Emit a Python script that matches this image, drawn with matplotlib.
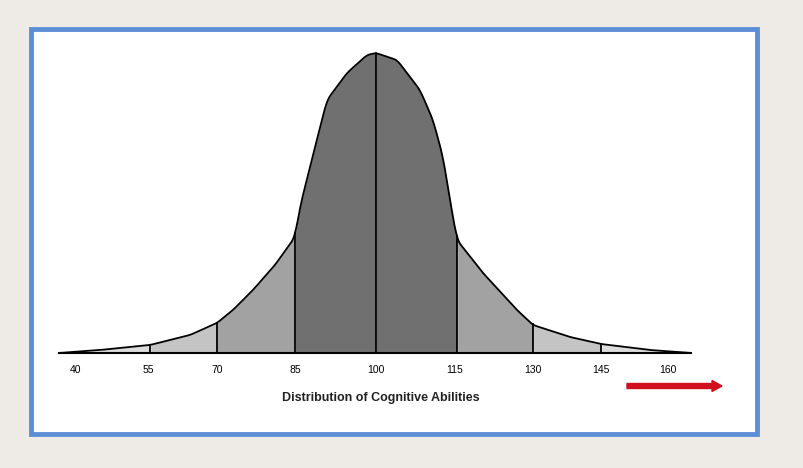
import numpy as np
import matplotlib
matplotlib.use("Agg")
import matplotlib.pyplot as plt
from matplotlib.patches import Rectangle, FancyArrow

# Curve outline: horizontal position (px-like units) and height above baseline
curve_x = [59, 100, 150, 190, 217, 233, 253, 275, 295, 300, 310, 327, 347, 367, 376,
           397, 420, 433, 443, 450, 457, 483, 517, 533, 570, 601, 650, 691]
curve_h = [0, 3, 8, 18, 30, 43, 63, 88, 116, 146, 186, 253, 280, 298, 300,
           293, 263, 233, 196, 153, 113, 80, 43, 28, 16, 9, 3, 0]
tick_pos = [76, 148, 217, 295, 376, 455, 533, 601, 668]
tick_labels = ["40", "55", "70", "85", "100", "115", "130", "145", "160"]
band_edges = [59, 150, 217, 295, 376, 457, 533, 601, 691]
band_colors = ["#dcdcdc", "#c4c4c4", "#a2a2a2", "#707070", "#707070", "#a2a2a2", "#c4c4c4", "#dcdcdc"]
title = "Distribution of Cognitive Abilities"

BASE = 353
fig = plt.figure(figsize=(8.04, 4.68), dpi=100, facecolor="#EEEBE7")
ax = fig.add_axes([0, 0, 1, 1])
ax.set_xlim(0, 804)
ax.set_ylim(468, 0)
ax.axis("off")

ax.add_patch(Rectangle((31, 29), 726, 405, facecolor="white", edgecolor="#5B8ED6", lw=3.5))

xs = np.array(curve_x, float)
hs = np.array(curve_h, float)
fine = np.linspace(xs[0], xs[-1], 800)
# smooth-ish outline via monotone-ish piecewise cubic on read points
from numpy import interp
def curve_at(x):
    return np.interp(x, xs, hs)
# light smoothing of the polyline for display
yf = curve_at(fine)
k = np.ones(9) / 9
yf_s = np.convolve(np.pad(yf, 4, mode="edge"), k, mode="valid")

for i in range(len(band_edges) - 1):
    m = (fine >= band_edges[i]) & (fine <= band_edges[i + 1])
    ax.fill_between(fine[m], BASE, BASE - yf_s[m], color=band_colors[i], lw=0)
ax.plot(fine, BASE - yf_s, color="black", lw=1.3)
ax.plot([band_edges[0], band_edges[-1]], [BASE, BASE], color="black", lw=1.5)
for e in band_edges[1:-1]:
    h = np.interp(e, fine, yf_s)
    ax.plot([e, e], [BASE, BASE - h], color="black", lw=1.3)

for p, l in zip(tick_pos, tick_labels):
    ax.text(p, 370, l, ha="center", va="center", fontsize=7.5, family="Liberation Sans")
ax.text(381, 398, title, ha="center", va="center", fontsize=9, fontweight="bold",
        family="Liberation Sans", color="#222222")
ax.add_patch(FancyArrow(627, 386, 85, 0, width=5, head_width=11, head_length=10,
                        color="#D0101E", length_includes_head=False))

fig.savefig("out.png", dpi=100, facecolor=fig.get_facecolor())
